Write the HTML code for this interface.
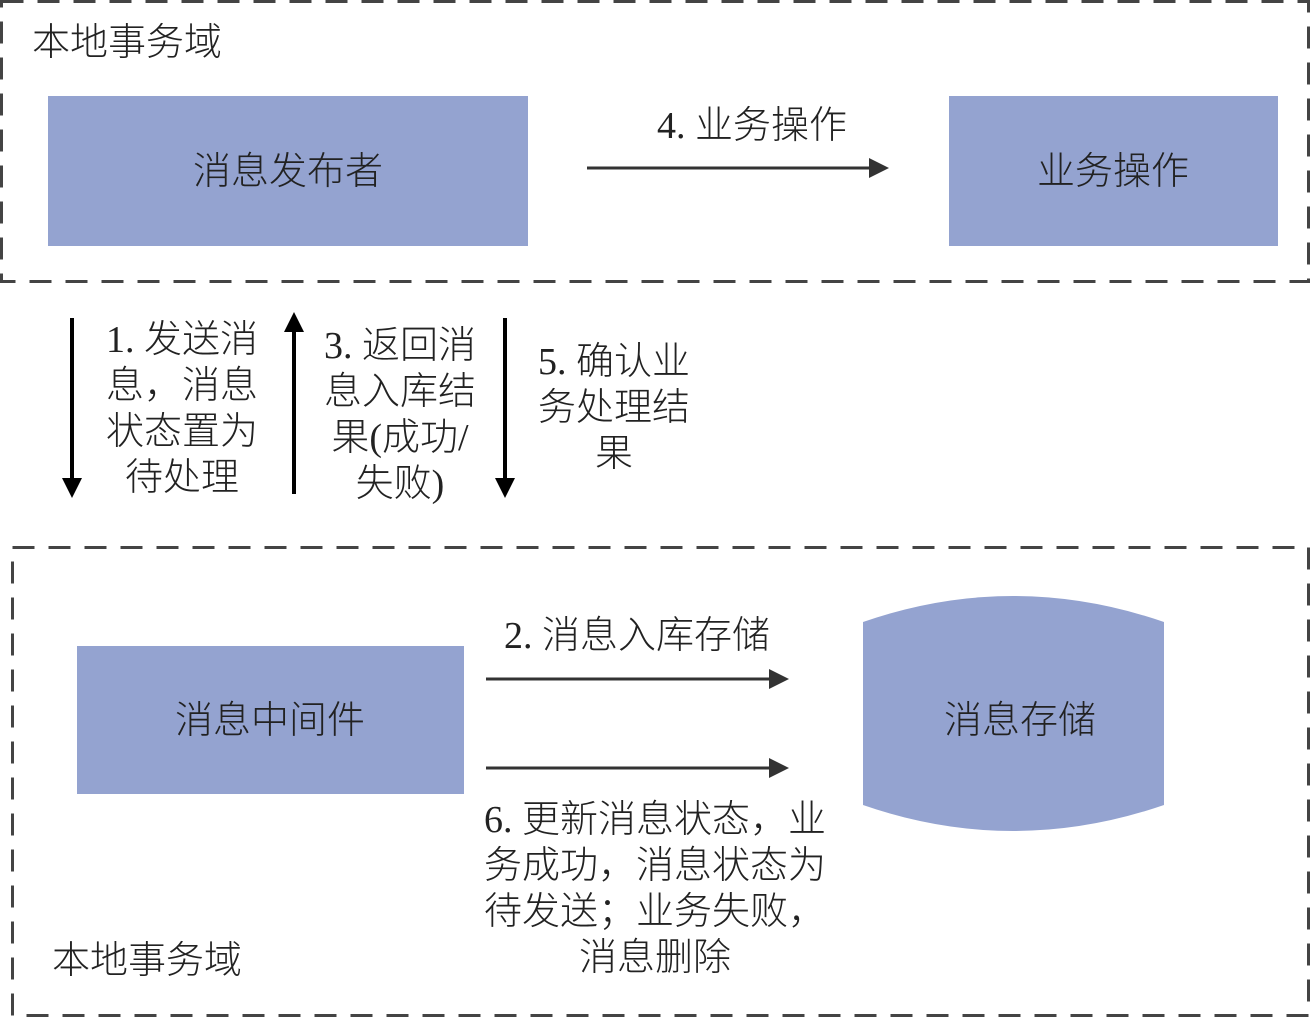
<!DOCTYPE html>
<html><head><meta charset="utf-8"><style>
html,body{margin:0;padding:0;background:#fff;width:1312px;height:1024px;overflow:hidden}
svg text{font-family:"Liberation Serif","Noto Sans CJK SC",sans-serif;fill:#222;font-size:38px;font-weight:300}
</style></head><body>
<svg width="1312" height="1024" viewBox="0 0 1312 1024" xmlns="http://www.w3.org/2000/svg">
<g fill="none" stroke="#444" stroke-width="3" stroke-dasharray="22 14">
<rect x="1.5" y="1.5" width="1307" height="280"/>
<rect x="12.5" y="547.5" width="1296" height="468"/>
</g>
<g fill="#94a3d0">
<rect x="48" y="96" width="480" height="150"/>
<rect x="949" y="96" width="329" height="150"/>
<rect x="77" y="646" width="387" height="148"/>
<path d="M863 622 Q1013 570 1164 622 L1164 805 Q1013 857 863 805 Z"/>
</g>
<text x="32" y="55">本地事务域</text>
<text x="52" y="973">本地事务域</text>
<text x="288" y="184" text-anchor="middle">消息发布者</text>
<text x="1113" y="184" text-anchor="middle">业务操作</text>
<text x="270" y="733" text-anchor="middle">消息中间件</text>
<text x="1020" y="733" text-anchor="middle">消息存储</text>
<g stroke="#333" stroke-width="3" fill="#333">
<line x1="587" y1="168" x2="872" y2="168"/><path d="M889 168 L869 158 L869 178 Z" stroke="none"/>
<line x1="486" y1="679" x2="772" y2="679"/><path d="M789 679 L769 669 L769 689 Z" stroke="none"/>
<line x1="486" y1="768" x2="772" y2="768"/><path d="M789 768 L769 758 L769 778 Z" stroke="none"/>
</g>
<g stroke="#000" stroke-width="4" fill="#000">
<line x1="72" y1="318" x2="72" y2="480"/><path d="M72 498 L62 478 L82 478 Z" stroke="none"/>
<line x1="294" y1="332" x2="294" y2="494"/><path d="M294 312 L284 332 L304 332 Z" stroke="none"/>
<line x1="505" y1="318" x2="505" y2="480"/><path d="M505 498 L495 478 L515 478 Z" stroke="none"/>
</g>
<text x="752" y="138" text-anchor="middle">4. 业务操作</text>
<text x="637" y="648" text-anchor="middle">2. 消息入库存储</text>
<g text-anchor="middle">
<text x="182" y="352">1. 发送消</text>
<text x="182" y="398">息，消息</text>
<text x="182" y="444">状态置为</text>
<text x="182" y="490">待处理</text>
<text x="400" y="358">3. 返回消</text>
<text x="400" y="404">息入库结</text>
<text x="400" y="450">果(成功/</text>
<text x="400" y="496">失败)</text>
<text x="614" y="374">5. 确认业</text>
<text x="614" y="420">务处理结</text>
<text x="614" y="466">果</text>
<text x="655" y="832">6. 更新消息状态，业</text>
<text x="655" y="878">务成功，消息状态为</text>
<text x="655" y="924">待发送；业务失败，</text>
<text x="655" y="970">消息删除</text>
</g>
</svg>
</body></html>
